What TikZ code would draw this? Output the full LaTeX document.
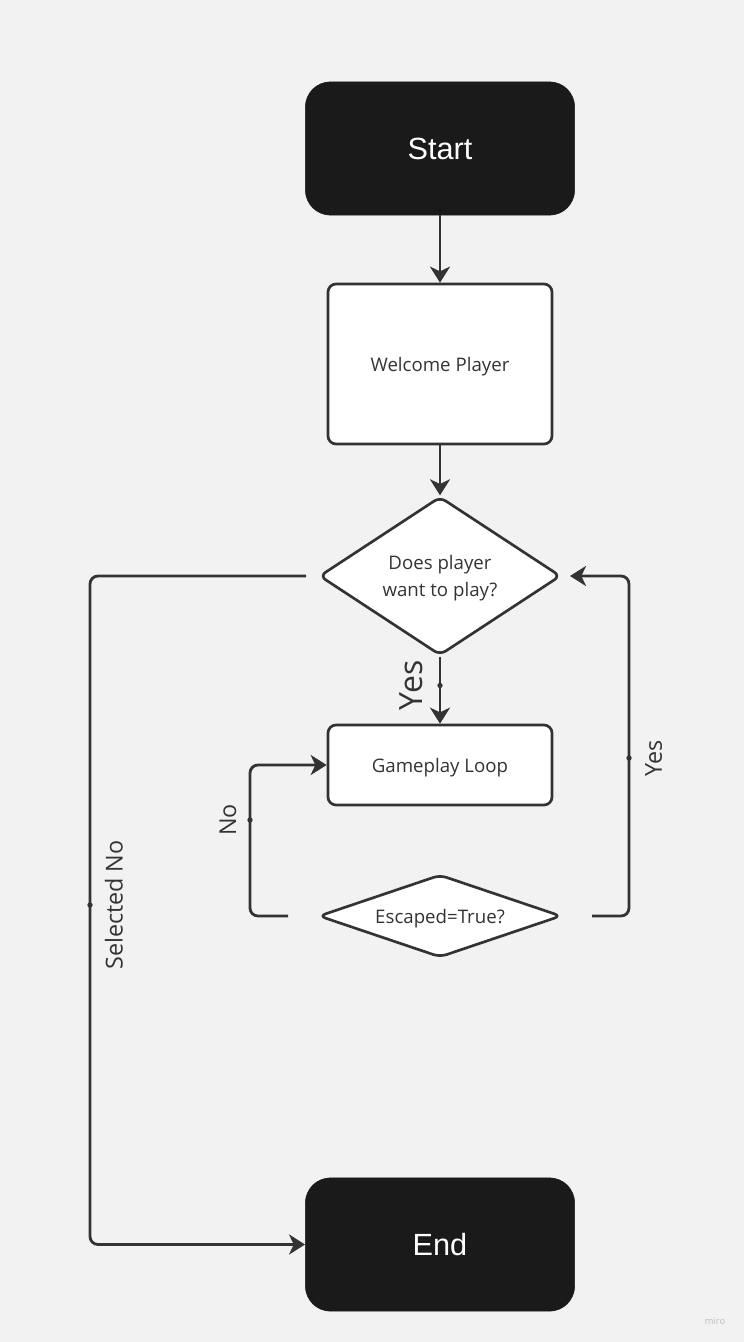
\documentclass[tikz,border=0pt]{standalone}
\usepackage{fontspec}
\setmainfont{Open Sans}
\newfontfamily\termfont{Liberation Sans}
\usetikzlibrary{arrows.meta,shapes.geometric}
\definecolor{bgcol}{HTML}{F2F2F2}
\definecolor{inkcol}{HTML}{333333}
\definecolor{termcol}{HTML}{1A1A1A}
\tikzset{>={Stealth[length=12pt,width=15pt,inset=3.5pt]},
  terminal/.style={fill=termcol,draw=termcol,rounded corners=19pt,minimum width=202pt,minimum height=100pt,text=white,font=\termfont\fontsize{23}{28}\selectfont},
  process/.style={draw=inkcol,fill=white,line width=2pt,rounded corners=6pt,minimum width=168pt,text depth=0pt,text=inkcol,font=\fontsize{14}{19}\selectfont},
  decision/.style={diamond,draw=inkcol,fill=white,line width=2pt,rounded corners=5pt,inner sep=1pt,text depth=0pt,align=center,text=inkcol,font=\fontsize{14}{20}\selectfont},
  flow/.style={->,draw=inkcol,line width=2.1pt,rounded corners=6pt},
  dot/.style={circle,fill=inkcol,inner sep=0pt,minimum size=4pt},
  lbl/.style={rotate=90,inner sep=0pt,text=inkcol,font=\fontsize{17.5}{20}\selectfont}}
\begin{document}
\begin{tikzpicture}[x=0.75pt,y=-0.75pt]
  \useasboundingbox (0,0) rectangle (744,1342);
  \fill[bgcol] (0,0) rectangle (744,1342);
  % boxes
  \node[terminal] (start) at (440,148.5) {Start};
  \node[process,minimum height=120pt] (welcome) at (440,364) {Welcome Player};
  \node[decision,aspect=1.52,minimum width=181pt,minimum height=119pt] (play) at (440,576) {Does player\\want to play?};
  \node[process,minimum height=60pt] (loop) at (440,765) {Gameplay Loop};
  \node[decision,aspect=2.95,minimum width=182pt,minimum height=62pt] (escaped) at (440,916) {Escaped=True?};
  \node[terminal] (finish) at (440,1244.5) {End};
  % bends of the side connectors
  \coordinate (selno) at (90,905);
  \coordinate (nobend) at (250,820);
  \coordinate (yesbend) at (629,758);
  % connectors
  \draw[flow] (start) -- (welcome);
  \draw[flow] (welcome) -- (play);
  \draw[flow] (play) -- node[dot,pos=.43] (yesdot) {} (loop);
  \draw[flow,shorten <=9pt] (play.west) -| (selno) |- (finish.west);
  \draw[flow,shorten <=22pt] (escaped.west) -| (nobend) |- (loop.west);
  \draw[flow,shorten <=22pt,shorten >=6pt] (escaped.east) -| (yesbend) |- (play.east);
  % labels
  \node[lbl,anchor=south,font=\fontsize{24}{28}\selectfont] (yeslbl) at ([xshift=-13pt]yesdot) {Yes};
  \node[dot] (seldot) at (selno) {};
  \node[lbl,anchor=north] (sellbl) at ([xshift=11pt]selno) {Selected No};
  \node[dot] (nodot) at (nobend) {};
  \node[lbl,anchor=south] (nolbl) at ([xshift=-10pt]nobend) {No};
  \node[dot] (againdot) at (yesbend) {};
  \node[lbl,anchor=north] (againlbl) at ([xshift=12pt]yesbend) {Yes};
  \node[text=black!25,font=\fontsize{7}{8}\selectfont] (miro) at (715,1321) {miro};
\end{tikzpicture}
\end{document}
